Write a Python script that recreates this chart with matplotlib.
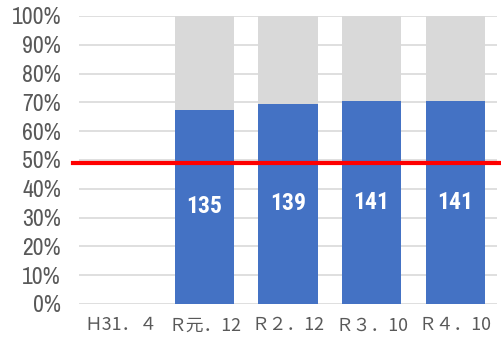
import matplotlib.pyplot as plt

cats = ['Ｈ31．４', 'Ｒ元．12', 'Ｒ２．12', 'Ｒ３．10', 'Ｒ４．10']
counts = [0, 135, 139, 141, 141]
total = 200
share = [c / total for c in counts]
rest = [(1 - s) if c > 0 else 0 for s, c in zip(share, counts)]
line_y = 0.49

narrow = 'Archivo Narrow'

fig = plt.figure(figsize=(5.01, 3.40), dpi=100)
ax = fig.add_axes([0.158, 0.106, 0.834, 0.847])

x = range(len(cats))
ax.bar(x, share, width=0.71, color='#4472c4', zorder=2)
ax.bar(x, rest, width=0.71, bottom=share, color='#d9d9d9', zorder=2)

for i, c in enumerate(counts):
    if c > 0:
        ax.text(i, share[i] / 2, str(c), ha='center', va='center', color='white',
                fontsize=17, fontweight='bold', family='Roboto Condensed', zorder=3)

ax.axhline(line_y, xmin=-0.015, xmax=1.01, color='#ff0000', lw=3, clip_on=False, zorder=4)

ax.set_xlim(-0.5, len(cats) - 0.5)
ax.set_ylim(0, 1)
ax.set_yticks([i / 10 for i in range(11)])
ax.set_yticklabels([f'{i * 10}%' for i in range(11)], family=narrow, fontsize=17, color='#595959')
ax.set_xticks(list(x))
ax.set_xticklabels(cats, family=['Noto Sans CJK JP', 'DejaVu Sans'], fontsize=12.8, color='#595959')
ax.tick_params(length=0)
ax.tick_params(axis='x', pad=9)
ax.tick_params(axis='y', pad=13)
ax.grid(axis='y', color='#d9d9d9', lw=1.2, zorder=0)
ax.set_axisbelow(True)
for s in ax.spines.values():
    s.set_visible(False)

fig.savefig('out.png', dpi=100)
